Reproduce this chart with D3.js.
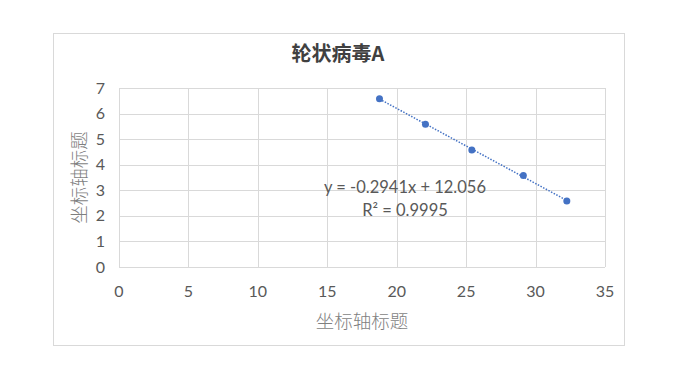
<!DOCTYPE html>
<html><head><meta charset="utf-8">
<script src="https://cdn.jsdelivr.net/npm/d3@7"></script>
<style>body{margin:0;background:#fff;}svg{display:block;}</style>
</head><body>
<svg id="c" width="674" height="368"></svg>
<script>
const title = "轮状病毒A";
const xTitle = "坐标轴标题";
const yTitle = "坐标轴标题";
const xValues = [18.76, 22.07, 25.41, 29.12, 32.25];
const yValues = [6.58, 5.58, 4.58, 3.58, 2.58];
const xTicks = [0, 5, 10, 15, 20, 25, 30, 35];
const yTicks = [0, 1, 2, 3, 4, 5, 6, 7];
const eqLines = ["y = -0.2941x + 12.056", "R² = 0.9995"];

const svg = d3.select("#c");
const m = {l:119, r:605, t:88, b:267};
const x = d3.scaleLinear().domain([0,35]).range([m.l, m.r]);
const y = d3.scaleLinear().domain([0,7]).range([m.b, m.t]);

svg.append("rect").attr("x",53.5).attr("y",33.5).attr("width",571).attr("height",312)
  .attr("fill","#fff").attr("stroke","#d9d9d9").attr("stroke-width",1);

svg.append("text").attr("x",338).attr("y",61).attr("text-anchor","middle")
  .attr("font-family","'Noto Sans CJK SC', sans-serif").attr("font-weight","bold")
  .attr("font-size",20).attr("fill","#404040").text(title);

// grid
const g = svg.append("g");
g.selectAll(".gx").data(xTicks).join("line")
  .attr("x1",d=>Math.round(x(d))+0.5).attr("x2",d=>Math.round(x(d))+0.5)
  .attr("y1",m.t).attr("y2",m.b).attr("stroke","#d9d9d9");
g.selectAll(".gy").data(yTicks).join("line")
  .attr("y1",d=>Math.round(y(d))+0.5).attr("y2",d=>Math.round(y(d))+0.5)
  .attr("x1",m.l).attr("x2",m.r).attr("stroke","#d9d9d9");

const tf = "Lato, 'Open Sans', sans-serif";
svg.selectAll(".xt").data(xTicks).join("text")
  .attr("x",d=>x(d)).attr("y",297).attr("text-anchor","middle")
  .attr("font-family",tf).attr("font-size",16).attr("fill","#595959").text(d=>d);
svg.selectAll(".yt").data(yTicks).join("text")
  .attr("x",105).attr("y",d=>y(d)+5.5).attr("text-anchor","end")
  .attr("font-family",tf).attr("font-size",16).attr("fill","#595959").text(d=>d);

svg.append("text").attr("x",(m.l+m.r)/2).attr("y",328).attr("text-anchor","middle")
  .attr("font-family","'Noto Sans CJK SC', sans-serif").attr("font-size",18.5).attr("font-weight",300)
  .attr("fill","#7f7f7f").text(xTitle);
svg.append("text").attr("transform",`translate(86,${(m.t+m.b)/2}) rotate(-90)`).attr("text-anchor","middle")
  .attr("font-family","'Noto Sans CJK SC', sans-serif").attr("font-size",18.5).attr("font-weight",300)
  .attr("fill","#7f7f7f").text(yTitle);

// trendline from linear regression
const n = xValues.length;
const mx = d3.mean(xValues), my = d3.mean(yValues);
let sxy=0,sxx=0;
for(let i=0;i<n;i++){sxy+=(xValues[i]-mx)*(yValues[i]-my);sxx+=(xValues[i]-mx)**2;}
const slope = sxy/sxx, icpt = my - slope*mx;
const x0 = d3.min(xValues), x1 = d3.max(xValues);
svg.append("line").attr("x1",x(x0)).attr("y1",y(icpt+slope*x0)).attr("x2",x(x1)).attr("y2",y(icpt+slope*x1))
  .attr("stroke","#4472C4").attr("stroke-width",1.5).attr("stroke-dasharray","1.5,1.5");

svg.selectAll(".pt").data(xValues).join("circle")
  .attr("cx",d=>x(d)).attr("cy",(d,i)=>y(yValues[i])).attr("r",3.5).attr("fill","#4472C4");

const eq = svg.append("text").attr("font-family",tf).attr("font-size",16.5).attr("fill","#595959").attr("text-anchor","middle");
eq.append("tspan").attr("x",405).attr("y",193).text(eqLines[0]);
eq.append("tspan").attr("x",405).attr("y",216).text(eqLines[1]);
</script>
</body></html>
